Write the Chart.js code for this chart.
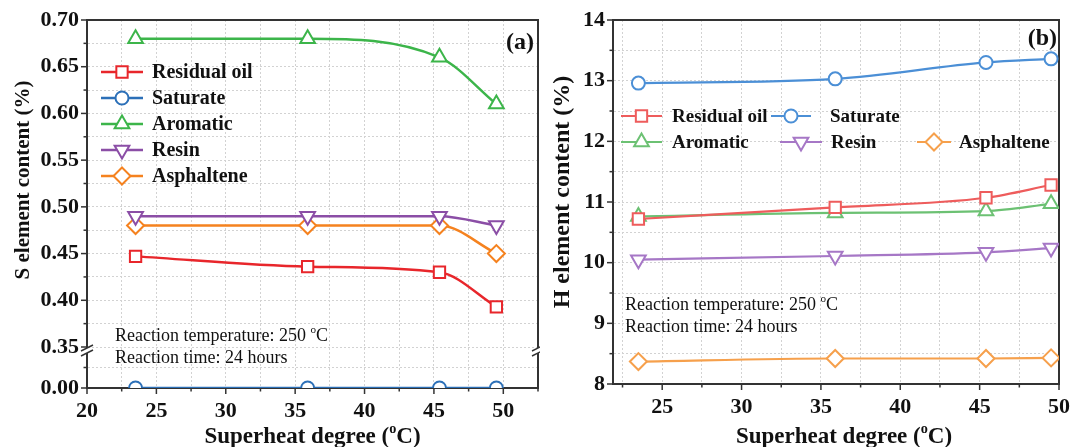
<!DOCTYPE html>
<html><head><meta charset="utf-8">
<script src="https://cdn.jsdelivr.net/npm/chart.js@4.4.1/dist/chart.umd.min.js"></script>
<style>
html,body{margin:0;padding:0;background:#fff;width:1070px;height:447px;overflow:hidden}
#wrapA{position:absolute;left:0;top:0;width:540px;height:447px}
#wrapB{position:absolute;left:540px;top:0;width:530px;height:447px}
</style></head><body>
<div id="wrapA"><canvas id="cA" width="540" height="447"></canvas></div>
<div id="wrapB"><canvas id="cB" width="530" height="447"></canvas></div>
<script>
// ---------------- DATA ----------------
const superheat = [23.5, 35.9, 45.4, 49.5];
const seriesNames = ['Residual oil', 'Saturate', 'Aromatic', 'Resin', 'Asphaltene'];

const sResidualOil = [0.447, 0.436, 0.430, 0.393];
const sSaturate    = [0.00, 0.00, 0.00, 0.00];
const sAromatic    = [0.68, 0.68, 0.66, 0.61];
const sResin       = [0.49, 0.49, 0.49, 0.48];
const sAsphaltene  = [0.48, 0.48, 0.48, 0.45];

const hResidualOil = [10.72, 10.91, 11.07, 11.28];
const hSaturate    = [12.96, 13.03, 13.30, 13.36];
const hAromatic    = [10.76, 10.82, 10.85, 10.97];
const hResin       = [10.05, 10.11, 10.17, 10.24];
const hAsphaltene  = [8.37, 8.42, 8.42, 8.43];

const sXTicks  = [20, 22.5, 25, 27.5, 30, 32.5, 35, 37.5, 40, 42.5, 45, 47.5, 50, 52.5];
const sXLabels = [20, 25, 30, 35, 40, 45, 50];
const sYUpperTicks  = [0.35, 0.375, 0.4, 0.425, 0.45, 0.475, 0.5, 0.525, 0.55, 0.575, 0.6, 0.625, 0.65, 0.675, 0.7];
const sYUpperLabels = [0.35, 0.4, 0.45, 0.5, 0.55, 0.6, 0.65, 0.7];
const sYLowerTicks  = [0, 0.025];
const sYLowerLabels = [0];

const hXTicks  = [22.5, 25, 27.5, 30, 32.5, 35, 37.5, 40, 42.5, 45, 47.5, 50];
const hXLabels = [25, 30, 35, 40, 45, 50];
const hYTicks  = [8, 8.5, 9, 9.5, 10, 10.5, 11, 11.5, 12, 12.5, 13, 13.5, 14];
const hYLabels = [8, 9, 10, 11, 12, 13, 14];

// ---------------- STYLE ----------------
const FONT = "'Liberation Serif','Times New Roman',serif";
const AXIS = '#333333';
const GRID = '#d2d2d2';
const colorsA = ['#e8262b', '#2c70b8', '#3cb54a', '#8b4ea6', '#f5821f'];
const colorsB = ['#ee5c5c', '#4b8fd6', '#6cc173', '#a677c6', '#f6a04c'];
const markers = [
  {style: 'rect', rot: 0, r: 8},
  {style: 'circle', rot: 0, r: 6.5},
  {style: 'triangle', rot: 0, r: 8.5},
  {style: 'triangle', rot: 180, r: 8.5},
  {style: 'rectRot', rot: 0, r: 8.5}
];

function pts(ys) { return superheat.map((x, i) => ({x: x, y: ys[i]})); }

function dataset(i, ys, colors, yAxisID, lw) {
  const m = markers[i];
  return {
    label: seriesNames[i], data: pts(ys), yAxisID: yAxisID,
    borderColor: colors[i], backgroundColor: '#ffffff', borderWidth: lw,
    pointStyle: m.style, pointRotation: m.rot, pointRadius: m.r, pointHoverRadius: m.r,
    pointBorderColor: colors[i], pointBackgroundColor: '#ffffff', pointBorderWidth: 2,
    cubicInterpolationMode: 'monotone', tension: 0.4
  };
}

function fmtTick(labels, digits) {
  return v => labels.includes(v) ? (digits ? v.toFixed(digits) : String(v)) : '';
}

function zeroPad(s) { s.paddingLeft = 0; s.paddingRight = 0; s.paddingTop = 0; s.paddingBottom = 0; }

function xScale(ticks, labels, min, max, h) {
  return {
    type: 'linear', position: 'bottom', min: min, max: max,
    afterBuildTicks: s => { s.ticks = ticks.map(v => ({value: v})); },
    afterFit: s => { s.height = h; zeroPad(s); },
    ticks: {autoSkip: false, maxRotation: 0, minRotation: 0, padding: 10, color: '#111',
            font: {family: FONT, size: 22, weight: 'bold'}, callback: fmtTick(labels, 0)},
    grid: {color: GRID, lineWidth: 1, drawTicks: false},
    border: {display: true, color: AXIS, width: 2, dash: [2, 2]},
    title: {display: false}
  };
}

function yScale(ticks, labels, min, max, w, digits, extra) {
  return Object.assign({
    type: 'linear', position: 'left', min: min, max: max,
    afterBuildTicks: s => { s.ticks = ticks.map(v => ({value: v})); },
    afterFit: s => { s.width = w; zeroPad(s); },
    ticks: {autoSkip: false, padding: 8, color: '#111',
            font: {family: FONT, size: 22, weight: 'bold'}, callback: fmtTick(labels, digits)},
    grid: {color: GRID, lineWidth: 1, drawTicks: false},
    border: {display: true, color: AXIS, width: 2, dash: [2, 2]},
    title: {display: false}
  }, extra || {});
}

// ---------------- DRAW HELPERS ----------------
function drawMarker(ctx, m, x, y, color) {
  const r = m.r;
  ctx.save();
  ctx.beginPath();
  ctx.strokeStyle = color; ctx.fillStyle = '#fff'; ctx.lineWidth = 2;
  if (m.style === 'rect') {
    const s = r * Math.SQRT1_2; ctx.rect(x - s, y - s, 2 * s, 2 * s);
  } else if (m.style === 'circle') {
    ctx.arc(x, y, r, 0, Math.PI * 2);
  } else if (m.style === 'triangle') {
    const d = m.rot === 180 ? -1 : 1;
    ctx.moveTo(x, y - d * r);
    ctx.lineTo(x + 0.866 * r, y + d * 0.5 * r);
    ctx.lineTo(x - 0.866 * r, y + d * 0.5 * r);
  } else if (m.style === 'rectRot') {
    ctx.moveTo(x, y - r); ctx.lineTo(x + r, y); ctx.lineTo(x, y + r); ctx.lineTo(x - r, y);
  }
  ctx.closePath(); ctx.fill(); ctx.stroke();
  ctx.restore();
}

function rich(ctx, parts, x, y, size, weight, align) {
  const f = s => weight + ' ' + s + 'px ' + FONT;
  const ws = parts.map(p => { ctx.font = f(p[1] ? size * 0.62 : size); return ctx.measureText(p[0]).width; });
  const total = ws.reduce((a, b) => a + b, 0);
  let cx = align === 'center' ? x - total / 2 : (align === 'right' ? x - total : x);
  ctx.textAlign = 'left'; ctx.textBaseline = 'middle'; ctx.fillStyle = '#111';
  parts.forEach((p, i) => {
    ctx.font = f(p[1] ? size * 0.62 : size);
    ctx.fillText(p[0], cx, p[1] ? y - size * 0.33 : y);
    cx += ws[i];
  });
}

function makeDecor(cfg) {
  return {
    id: 'decor' + cfg.key,
    beforeDatasetsDraw(chart) {
      const {ctx, chartArea: a} = chart;
      ctx.save(); ctx.strokeStyle = AXIS; ctx.lineWidth = 2; ctx.lineCap = 'square';
      ctx.beginPath(); ctx.moveTo(a.left, a.top); ctx.lineTo(a.right, a.top); ctx.lineTo(a.right, a.bottom); ctx.stroke();
      ctx.restore();
    },
    afterDraw(chart) {
      const {ctx, chartArea: a} = chart;
      ctx.save();
      // tick marks (major long, minor short, outward)
      Object.values(chart.scales).forEach(s => {
        s.ticks.forEach(t => {
          const major = t.label !== '' && t.label !== undefined;
          const len = major ? 6 : 3.5;
          const p = s.getPixelForValue(t.value);
          ctx.beginPath(); ctx.strokeStyle = AXIS; ctx.lineWidth = 1.5;
          if (s.isHorizontal()) { ctx.moveTo(p, s.top); ctx.lineTo(p, s.top + len); }
          else { ctx.moveTo(s.right, p); ctx.lineTo(s.right - len, p); }
          ctx.stroke();
        });
      });
      // axis break
      if (cfg.breakScale) {
        const yb = chart.scales[cfg.breakScale].bottom;
        [a.left, a.right].forEach(x => {
          ctx.fillStyle = '#fff'; ctx.fillRect(x - 2, yb + 1, 4, 5);
          ctx.strokeStyle = AXIS; ctx.lineWidth = 1.5;
          ctx.beginPath(); ctx.moveTo(x - 6, yb + 4); ctx.lineTo(x + 6, yb - 2); ctx.stroke();
          ctx.beginPath(); ctx.moveTo(x - 6, yb + 9); ctx.lineTo(x + 6, yb + 3); ctx.stroke();
        });
      }
      // legend
      cfg.legend.forEach(it => {
        const d = chart.data.datasets[it.i];
        ctx.strokeStyle = d.borderColor; ctx.lineWidth = d.borderWidth;
        ctx.beginPath(); ctx.moveTo(it.lx, it.y); ctx.lineTo(it.lx + it.lw, it.y); ctx.stroke();
        drawMarker(ctx, markers[it.i], it.lx + it.lw / 2, it.y, d.borderColor);
        ctx.font = 'bold ' + cfg.legendSize + 'px ' + FONT;
        ctx.fillStyle = '#111'; ctx.textAlign = 'left'; ctx.textBaseline = 'middle';
        ctx.fillText(d.label, it.tx, it.y + 1);
      });
      // notes
      cfg.notes.forEach(n => rich(ctx, n.parts, n.x, n.y, 18, 'normal', 'left'));
      // panel label
      rich(ctx, [[cfg.panel.text, 0]], cfg.panel.x, cfg.panel.y, 24, 'bold', 'right');
      // x title
      rich(ctx, [['Superheat degree (', 0], ['o', 1], ['C)', 0]], (a.left + a.right) / 2 + cfg.xTitleDx, cfg.xTitleY, 23, 'bold', 'center');
      // y title
      ctx.save(); ctx.translate(cfg.yTitle.x, cfg.yTitle.y); ctx.rotate(-Math.PI / 2);
      rich(ctx, [[cfg.yTitle.text, 0]], 0, 0, cfg.yTitle.size, 'bold', 'center');
      ctx.restore();
      ctx.restore();
    }
  };
}

const noteParts1 = [['Reaction temperature: 250 ', 0], ['o', 1], ['C', 0]];
const noteParts2 = [['Reaction time: 24 hours', 0]];

// ---------------- CHART A (S content) ----------------
new Chart(document.getElementById('cA'), {
  type: 'line',
  data: {datasets: [
    dataset(0, sResidualOil, colorsA, 'yUp', 2.5),
    dataset(1, sSaturate, colorsA, 'yLow', 2.5),
    dataset(2, sAromatic, colorsA, 'yUp', 2.5),
    dataset(3, sResin, colorsA, 'yUp', 2.5),
    dataset(4, sAsphaltene, colorsA, 'yUp', 2.5)
  ]},
  options: {
    responsive: false, animation: false, devicePixelRatio: 1,
    layout: {autoPadding: false, padding: {left: 0, right: 2, top: 20, bottom: 0}},
    plugins: {legend: {display: false}, tooltip: {enabled: false}},
    scales: {
      x: xScale(sXTicks, sXLabels, 20, 52.5, 59),
      yLow: yScale(sYLowerTicks, sYLowerLabels, 0, 0.05, 87, 2, {stack: 'sAxis', stackWeight: 41}),
      yUp: yScale(sYUpperTicks, sYUpperLabels, 0.35, 0.70, 87, 2, {stack: 'sAxis', stackWeight: 327})
    }
  },
  plugins: [makeDecor({
    key: 'A', breakScale: 'yUp', legendSize: 20,
    legend: [
      {i: 0, lx: 101, lw: 42, tx: 152, y: 72},
      {i: 1, lx: 101, lw: 42, tx: 152, y: 98},
      {i: 2, lx: 101, lw: 42, tx: 152, y: 124},
      {i: 3, lx: 101, lw: 42, tx: 152, y: 150},
      {i: 4, lx: 101, lw: 42, tx: 152, y: 176}
    ],
    notes: [{parts: noteParts1, x: 115, y: 336}, {parts: noteParts2, x: 115, y: 358}],
    panel: {text: '(a)', x: 534, y: 43},
    xTitleDx: 0, xTitleY: 437,
    yTitle: {text: 'S element content (%)', x: 24, y: 180, size: 21}
  })]
});

// ---------------- CHART B (H content) ----------------
new Chart(document.getElementById('cB'), {
  type: 'line',
  data: {datasets: [
    dataset(0, hResidualOil, colorsB, 'y', 2.2),
    dataset(1, hSaturate, colorsB, 'y', 2.2),
    dataset(2, hAromatic, colorsB, 'y', 2.2),
    dataset(3, hResin, colorsB, 'y', 2.2),
    dataset(4, hAsphaltene, colorsB, 'y', 2.2)
  ]},
  options: {
    responsive: false, animation: false, devicePixelRatio: 1,
    layout: {autoPadding: false, padding: {left: 0, right: 11, top: 20, bottom: 0}},
    plugins: {legend: {display: false}, tooltip: {enabled: false}},
    scales: {
      x: xScale(hXTicks, hXLabels, 21.9, 50, 63),
      y: yScale(hYTicks, hYLabels, 8, 14, 73, 0)
    }
  },
  plugins: [makeDecor({
    key: 'B', breakScale: null, legendSize: 19,
    legend: [
      {i: 0, lx: 81, lw: 41, tx: 132, y: 116},
      {i: 1, lx: 231, lw: 40, tx: 290, y: 116},
      {i: 2, lx: 81, lw: 41, tx: 132, y: 142},
      {i: 3, lx: 240, lw: 42, tx: 291, y: 142},
      {i: 4, lx: 377, lw: 34, tx: 419, y: 142}
    ],
    notes: [{parts: noteParts1, x: 85, y: 305}, {parts: noteParts2, x: 85, y: 327}],
    panel: {text: '(b)', x: 517, y: 39},
    xTitleDx: 8, xTitleY: 437,
    yTitle: {text: 'H element content (%)', x: 23, y: 192, size: 24}
  })]
});
</script>
</body></html>
